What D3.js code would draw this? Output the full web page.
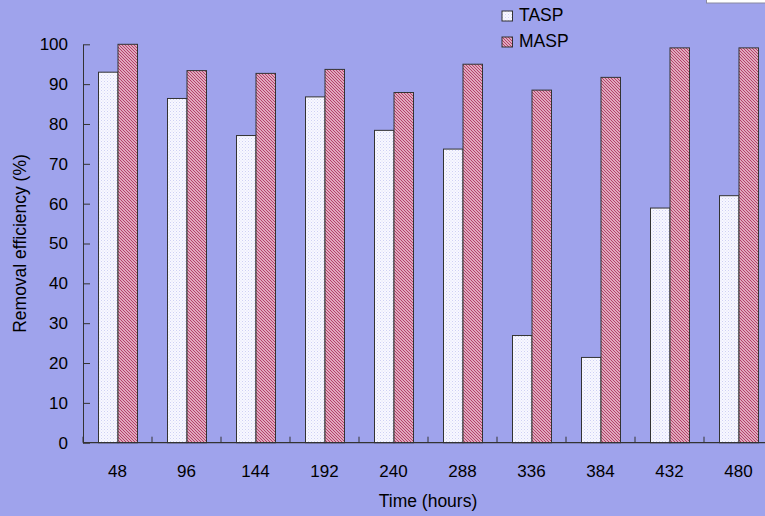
<!DOCTYPE html>
<html>
<head>
<meta charset="utf-8">
<script src="https://cdn.jsdelivr.net/npm/d3@7"></script>
<style>
  html, body { margin: 0; padding: 0; background: #9fa3ec; }
  svg { display: block; }
  text { font-family: "Liberation Sans", Arial, sans-serif; fill: #000; }
</style>
</head>
<body>
<svg id="chart" width="765" height="516"></svg>
<script>
const categories = ["48", "96", "144", "192", "240", "288", "336", "384", "432", "480"];
const seriesNames = ["TASP", "MASP"];
const taspValues = [93, 86.4, 77.1, 86.8, 78.4, 73.7, 26.9, 21.4, 58.9, 62];
const maspValues = [100, 93.4, 92.7, 93.7, 87.9, 95, 88.5, 91.7, 99.1, 99.1];
const yTicks = [0, 10, 20, 30, 40, 50, 60, 70, 80, 90, 100];

(function () {
const svg = d3.select("#chart");
const W = 765, H = 516;
const mLeft = 83, mTop = 44.3, mBottom = 442.7, mRight = 773;
const FONT = "Liberation Sans, Arial, sans-serif";

svg.append("rect").attr("width", W).attr("height", H).attr("fill", "#9fa3ec");

const defs = svg.append("defs");
const pT = defs.append("pattern").attr("id", "patT").attr("patternUnits", "userSpaceOnUse")
  .attr("width", 3).attr("height", 3);
pT.append("rect").attr("width", 3).attr("height", 3).attr("fill", "#f8f8ff");
pT.append("rect").attr("x", 0).attr("y", 0).attr("width", 1).attr("height", 1).attr("fill", "#cfd0f4");
pT.append("rect").attr("x", 1.5).attr("y", 1.5).attr("width", 1).attr("height", 1).attr("fill", "#dcdcf8");

const pM = defs.append("pattern").attr("id", "patM").attr("patternUnits", "userSpaceOnUse")
  .attr("width", 3).attr("height", 3);
pM.append("rect").attr("width", 3).attr("height", 3).attr("fill", "#f2d6e2");
pM.append("path").attr("d", "M-1,-1 L4,4 M-1,2 L1,4 M2,-1 L4,1")
  .attr("stroke", "#b23a64").attr("stroke-width", 1.1);

const x = d3.scaleBand().domain(categories).range([mLeft, mRight])
  .paddingInner(0.4348).paddingOuter(0.2174);
const xs = d3.scaleBand().domain(seriesNames).range([0, x.bandwidth()]);
const y = d3.scaleLinear().domain([0, 100]).range([mBottom, mTop]);

const data = categories.map((c, i) => ({ c, vals: [
  { s: "TASP", v: taspValues[i] }, { s: "MASP", v: maspValues[i] }
]}));
const fills = { TASP: "url(#patT)", MASP: "url(#patM)" };

const g = svg.append("g").selectAll("g").data(data).join("g")
  .attr("transform", d => `translate(${x(d.c)},0)`);
g.selectAll("rect").data(d => d.vals).join("rect")
  .attr("x", d => xs(d.s) + 0.5)
  .attr("y", d => y(d.v))
  .attr("width", xs.bandwidth())
  .attr("height", d => y(0) - y(d.v))
  .attr("fill", d => fills[d.s])
  .attr("stroke", "#333")
  .attr("stroke-width", 1);

// Y axis
const yAxis = d3.axisLeft(y).tickValues(yTicks).tickSizeInner(-7).tickSizeOuter(0).tickPadding(15);
const ya = svg.append("g").attr("transform", `translate(${mLeft},0)`).call(yAxis);
ya.attr("font-size", 17).attr("font-family", FONT);
ya.select(".domain").attr("stroke", "#333");
ya.selectAll(".tick line").attr("stroke", "#333");
ya.selectAll(".tick text").attr("fill", "#000");

// X axis line
svg.append("line").attr("x1", mLeft).attr("x2", W).attr("y1", mBottom).attr("y2", mBottom)
  .attr("stroke", "#333").attr("stroke-width", 1.2);
const step = x.step();
const bounds = d3.range(0, categories.length + 1).map(k => mLeft + k * step).filter(v => v <= W);
svg.append("g").selectAll("line").data(bounds).join("line")
  .attr("x1", d => d).attr("x2", d => d).attr("y1", mBottom).attr("y2", mBottom - 6)
  .attr("stroke", "#333");
svg.append("g").selectAll("text").data(categories).join("text")
  .attr("x", d => x(d) + x.bandwidth() / 2)
  .attr("y", 477)
  .attr("text-anchor", "middle")
  .attr("font-size", 17)
  .text(d => d);

svg.append("text").attr("x", 428).attr("y", 506.5).attr("text-anchor", "middle")
  .attr("font-size", 17.5).text("Time (hours)");
svg.append("text").attr("transform", "translate(25.5,243.5) rotate(-90)")
  .attr("text-anchor", "middle").attr("font-size", 17.5).text("Removal efficiency (%)");

const leg = svg.append("g").selectAll("g").data(seriesNames).join("g")
  .attr("transform", (d, i) => `translate(502,${11 + i * 26})`);
leg.append("rect").attr("width", 10.5).attr("height", 10)
  .attr("fill", d => fills[d]).attr("stroke", "#333");
leg.append("text").attr("x", 17).attr("y", 9.7).attr("font-size", 17.5).text(d => d);

svg.append("rect").attr("x", 706.5).attr("y", -10).attr("width", 70).attr("height", 13)
  .attr("fill", "#ffffff").attr("stroke", "#8a8aa0");
})();
</script>
</body>
</html>
